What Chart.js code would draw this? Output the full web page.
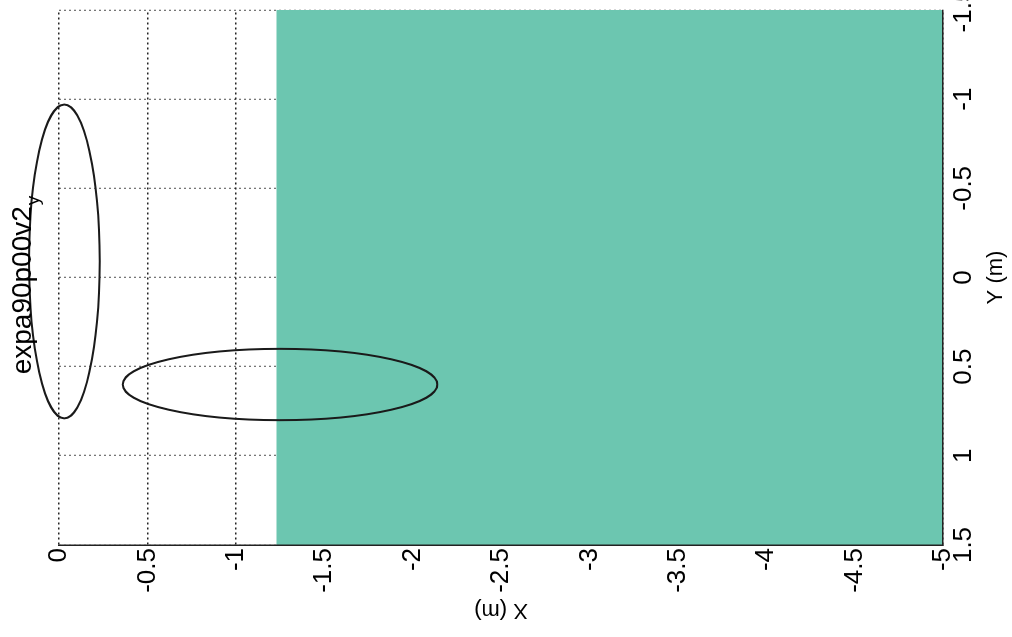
<!DOCTYPE html>
<html>
<head>
<meta charset="utf-8">
<script src="https://cdn.jsdelivr.net/npm/chart.js@4.4.0/dist/chart.umd.min.js"></script>
<style>
  html, body { margin: 0; padding: 0; background: #fff; overflow: hidden; }
  /* the figure is drawn upright and then turned a quarter turn, like the scan */
  #wrap { position: absolute; left: 0; top: 0; width: 637px; height: 1012px;
          transform-origin: 0 0; transform: translate(0, 637px) rotate(-90deg); }
</style>
</head>
<body>
<div id="wrap"><canvas id="chart" width="637" height="1012"></canvas></div>
<script>
// ========================================
// DATA
// ========================================
const titleText = 'expa90p00v2';
const titleSub = 'y';

// tick labels
const yTicks = [1.5, 1, 0.5, 0, -0.5, -1, -1.5];                         // Y (m)
const xTicks = [0, -0.5, -1, -1.5, -2, -2.5, -3, -3.5, -4, -4.5, -5];    // X (m)

// shaded region: edge at X = -1.23 across the whole Y range, filled to X = -5
const regionY = [1.5, -1.5];
const regionX = [-1.23, -1.23];

// ellipses: centre and half-widths (metres)
const ellipseY = [-0.09, 0.6];
const ellipseX = [-0.03, -1.25];
const ellipseRY = [0.88, 0.2];
const ellipseRX = [0.2, 0.89];

const FONT = '"Liberation Sans", Arial, sans-serif';

// ========================================
// PLUGINS
// ========================================

// Ellipse outlines, placed through the chart scales
const ellipsePlugin = {
    id: 'ellipses',
    afterDatasetsDraw(chart) {
        const { ctx, scales: { x, y } } = chart;
        ctx.save();
        ctx.strokeStyle = '#1a1a1a';
        ctx.lineWidth = 2;
        for (let i = 0; i < ellipseX.length; i++) {
            const cx = x.getPixelForValue(ellipseY[i]);
            const cy = y.getPixelForValue(ellipseX[i]);
            const rx = Math.abs(x.getPixelForValue(ellipseY[i] + ellipseRY[i]) - cx);
            const ry = Math.abs(y.getPixelForValue(ellipseX[i] + ellipseRX[i]) - cy);
            ctx.beginPath();
            ctx.ellipse(cx, cy, rx, ry, 0, 0, Math.PI * 2);
            ctx.stroke();
        }
        ctx.restore();
    }
};

// Title with a subscript
const titlePlugin = {
    id: 'subTitle',
    afterDraw(chart) {
        const { ctx, chartArea } = chart;
        ctx.save();
        ctx.fillStyle = '#000';
        ctx.textAlign = 'left';
        ctx.textBaseline = 'alphabetic';
        ctx.font = '28px ' + FONT;
        const w1 = ctx.measureText(titleText).width;
        ctx.font = '19px ' + FONT;
        const w2 = ctx.measureText(titleSub).width;
        const mid = (chartArea.left + chartArea.right) / 2 - 8;
        const start = mid - (w1 + w2) / 2;
        ctx.font = '28px ' + FONT;
        ctx.fillText(titleText, start, 31);
        ctx.font = '19px ' + FONT;
        ctx.fillText(titleSub, start + w1 + 1, 39);
        ctx.restore();
    }
};

// Plain number labels: 1, -0.5, -5 ...
function tickLabel(value) {
    return String(value);
}

// ========================================
// CHART
// ========================================
new Chart(document.getElementById('chart'), {
    type: 'line',
    data: {
        datasets: [{
            data: regionY.map((v, i) => ({ x: v, y: regionX[i] })),
            borderWidth: 0,
            pointRadius: 0,
            fill: 'start',
            backgroundColor: 'rgb(108, 198, 176)',
            borderColor: 'rgb(108, 198, 176)'
        }]
    },
    options: {
        responsive: false,
        animation: false,
        layout: { padding: { top: 59, right: 10, left: 0, bottom: 0 } },
        plugins: {
            legend: { display: false },
            tooltip: { enabled: false }
        },
        scales: {
            x: {
                type: 'linear',
                min: -1.5,
                max: 1.5,
                reverse: true,
                afterBuildTicks: s => { s.ticks = yTicks.map(v => ({ value: v })); },
                afterFit: s => { s.height = 69; s.paddingLeft = 0; s.paddingRight = 0; },
                ticks: {
                    autoSkip: false,
                    maxRotation: 0,
                    padding: 5,
                    color: '#000',
                    font: { family: FONT, size: 26 },
                    callback: tickLabel
                },
                grid: { color: '#777', drawTicks: false, lineWidth: 1.3 },
                border: { display: true, color: '#222', width: 1.5, dash: [2, 3], z: 1 },
                title: {
                    display: true,
                    text: 'Y (m)',
                    color: '#000',
                    font: { family: FONT, size: 22 },
                    padding: { top: 0, bottom: 3 }
                }
            },
            y: {
                type: 'linear',
                min: -5,
                max: 0,
                afterBuildTicks: s => { s.ticks = xTicks.map(v => ({ value: v })); },
                afterFit: s => { s.width = 92; s.paddingTop = 0; s.paddingBottom = 0; },
                ticks: {
                    autoSkip: false,
                    padding: 3,
                    color: '#000',
                    font: { family: FONT, size: 26 },
                    callback: tickLabel
                },
                grid: { color: '#222', drawTicks: false, lineWidth: 1.5 },
                border: { display: true, color: '#222', width: 1.5, dash: [2, 3], z: 1 },
                title: {
                    display: true,
                    text: 'X (m)',
                    color: '#000',
                    font: { family: FONT, size: 22 },
                    padding: { top: 14, bottom: 0 }
                }
            }
        }
    },
    plugins: [ellipsePlugin, titlePlugin]
});
</script>
</body>
</html>
